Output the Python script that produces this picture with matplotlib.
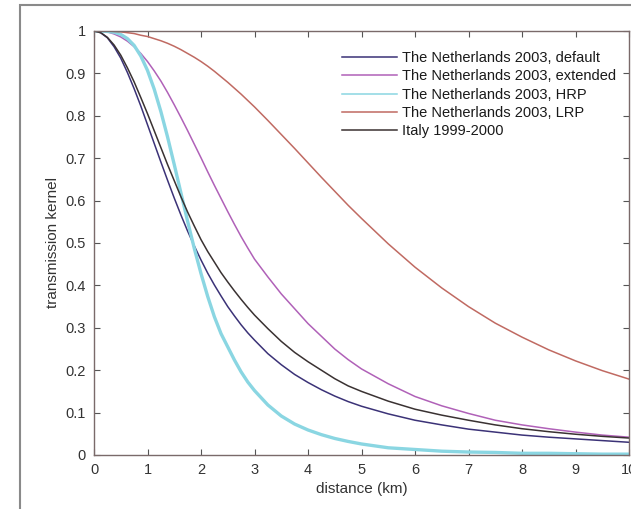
import numpy as np
import matplotlib.pyplot as plt
from matplotlib.patches import Rectangle
from matplotlib.ticker import FormatStrFormatter

plt.rcParams['font.family'] = ['Liberation Sans', 'DejaVu Sans']

# distance (km) where the curves were read
distance = [0, 0.125, 0.25, 0.375, 0.5, 0.625, 0.75, 0.875, 1,
            1.125, 1.25, 1.375, 1.5, 1.625, 1.75, 1.875, 2,
            2.125, 2.25, 2.375, 2.5, 2.625, 2.75, 2.875, 3,
            3.25, 3.5, 3.75, 4, 4.25, 4.5, 4.75, 5,
            5.5, 6, 6.5, 7, 7.5, 8, 8.5, 9, 9.5, 10]

nl_default = [1.0, 0.996, 0.984, 0.963, 0.936, 0.902, 0.864, 0.823, 0.779,
              0.735, 0.691, 0.648, 0.606, 0.566, 0.528, 0.493, 0.460,
              0.429, 0.401, 0.375, 0.350, 0.328, 0.307, 0.288, 0.271,
              0.239, 0.213, 0.190, 0.171, 0.154, 0.139, 0.126, 0.115,
              0.097, 0.082, 0.071, 0.061, 0.054, 0.047, 0.042, 0.038, 0.034, 0.030]
nl_extended = [1.0, 1.0, 0.998, 0.993, 0.986, 0.976, 0.963, 0.947, 0.928,
               0.906, 0.882, 0.855, 0.826, 0.796, 0.765, 0.733, 0.701,
               0.668, 0.636, 0.605, 0.574, 0.544, 0.515, 0.488, 0.462,
               0.420, 0.380, 0.345, 0.310, 0.280, 0.250, 0.225, 0.203,
               0.168, 0.138, 0.116, 0.098, 0.082, 0.071, 0.062, 0.054, 0.047, 0.042]
nl_hrp = [1.0, 1.0, 0.999, 0.997, 0.992, 0.982, 0.966, 0.941, 0.907,
          0.863, 0.810, 0.750, 0.685, 0.618, 0.551, 0.487, 0.428,
          0.374, 0.326, 0.286, 0.255, 0.224, 0.196, 0.172, 0.152,
          0.118, 0.092, 0.073, 0.059, 0.048, 0.039, 0.032, 0.026,
          0.017, 0.013, 0.009, 0.007, 0.006, 0.004, 0.004, 0.003, 0.002, 0.002]
nl_lrp = [1.0, 1.0, 1.0, 0.999, 0.998, 0.996, 0.994, 0.990, 0.987,
          0.982, 0.977, 0.971, 0.964, 0.956, 0.947, 0.938, 0.928,
          0.917, 0.905, 0.892, 0.879, 0.865, 0.851, 0.836, 0.821,
          0.789, 0.756, 0.723, 0.689, 0.655, 0.622, 0.589, 0.558,
          0.498, 0.443, 0.394, 0.350, 0.311, 0.278, 0.248, 0.222, 0.199, 0.179]
italy = [1.0, 0.996, 0.985, 0.967, 0.943, 0.913, 0.880, 0.843, 0.805,
         0.765, 0.725, 0.685, 0.647, 0.609, 0.573, 0.540, 0.508,
         0.480, 0.455, 0.430, 0.408, 0.387, 0.367, 0.348, 0.330,
         0.298, 0.268, 0.242, 0.220, 0.200, 0.180, 0.163, 0.150,
         0.127, 0.108, 0.094, 0.082, 0.071, 0.062, 0.055, 0.049, 0.044, 0.040]

labels = ['The Netherlands 2003, default', 'The Netherlands 2003, extended',
          'The Netherlands 2003, HRP', 'The Netherlands 2003, LRP', 'Italy 1999-2000']

fig = plt.figure(figsize=(6.31, 5.09), dpi=100)

# grey frame around the figure
fig.patches.append(Rectangle((20 / 631, -0.02), 1.0, 1.01 - 5 / 509 + 0.01,
                             transform=fig.transFigure, fill=False,
                             edgecolor='#8a8a8a', linewidth=1.5))

ax = fig.add_axes([94 / 631, 1 - 455 / 509, 535 / 631, 424 / 509])

ax.plot(distance, nl_default, color='#3b3277', lw=1.1, label=labels[0])
ax.plot(distance, nl_extended, color='#b061b8', lw=1.1, label=labels[1])
ax.plot(distance, nl_hrp, color='#8ad6e2', lw=2.4, label=labels[2])
ax.plot(distance, nl_lrp, color='#c06a62', lw=1.1, label=labels[3])
ax.plot(distance, italy, color='#3a3232', lw=1.1, label=labels[4])

ax.set_xlim(0, 10)
ax.set_ylim(0, 1)
ax.set_xticks(range(0, 11))
ax.set_yticks(np.arange(0, 1.01, 0.1))
ax.yaxis.set_major_formatter(FormatStrFormatter('%g'))
ax.tick_params(direction='in', length=4, top=True, right=True,
               labelsize=10.5, colors='#555555', labelcolor='#333333', pad=6)
for s in ax.spines.values():
    s.set_color('#7a6a6a')
    s.set_linewidth(1.0)

ax.set_xlabel('distance (km)', fontsize=11, color='#333333', labelpad=3)
ax.set_ylabel('transmission kernel', fontsize=11, color='#333333', labelpad=4)

leg = ax.legend(loc='upper left', bbox_to_anchor=(0.4636, 0.953), frameon=False,
                fontsize=10.5, handlelength=3.8, handletextpad=0.3, labelspacing=0.3,
                borderpad=0, borderaxespad=0)
for line in leg.get_lines():
    line.set_linewidth(1.1)
for t in leg.get_texts():
    t.set_color('#1a1a1a')

plt.savefig('out.png', dpi=100)
